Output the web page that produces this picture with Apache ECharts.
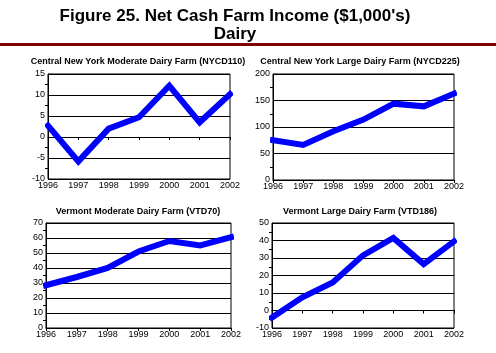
<!DOCTYPE html>
<html><head><meta charset="utf-8">
<script src="https://cdn.jsdelivr.net/npm/echarts@6/dist/echarts.min.js"></script>
<style>html,body{margin:0;padding:0;background:#fff}#c{width:496px;height:353px}</style>
</head><body><div id="c"></div>
<script>
const years = ['1996','1997','1998','1999','2000','2001','2002'];
const nycdModerate = [2.7, -5.8, 2.0, 4.7, 12.2, 3.5, 10.2];
const nycdLarge = [75, 66, 92, 114, 144, 139, 163];
const vtModerate = [28.5, 34, 40, 51, 58, 55, 60.5];
const vtLarge = [-4, 7.5, 16, 31.5, 41.5, 26.5, 39.5];
const chartTitles = [
  'Central New York Moderate Dairy Farm (NYCD110)',
  'Central New York Large Dairy Farm (NYCD225)',
  'Vermont Moderate Dairy Farm (VTD70)',
  'Vermont Large Dairy Farm (VTD186)'
];
const mainTitle = "Figure 25. Net Cash Farm Income ($1,000's)";
const subTitle = 'Dairy';
const yRanges = [[-10, 15, 5], [0, 200, 50], [0, 70, 10], [-10, 50, 10]];
const seriesData = [nycdModerate, nycdLarge, vtModerate, vtLarge];

const grids = [
  {left: 48, top: 74, width: 182, height: 105},
  {left: 273, top: 74, width: 181, height: 106},
  {left: 46, top: 223, width: 185, height: 105},
  {left: 272, top: 223, width: 182, height: 105}
];
const titlePos = [[138, 57], [360, 57], [138, 207], [360, 207]];
const font = 'Liberation Sans, Arial, sans-serif';

const chart = echarts.init(document.getElementById('c'), null, {renderer: 'canvas'});
const option = {
  animation: false,
  backgroundColor: '#fff',
  title: [
    {text: mainTitle, left: 235, top: 8, padding: 0, textAlign: 'center',
     textStyle: {fontFamily: font, fontWeight: 'bold', fontSize: 17, color: '#000'}},
    {text: subTitle, left: 235, top: 26, padding: 0, textAlign: 'center',
     textStyle: {fontFamily: font, fontWeight: 'bold', fontSize: 17, color: '#000'}}
  ].concat(chartTitles.map((t, i) => ({
    text: t, left: titlePos[i][0], top: titlePos[i][1], padding: 0, textAlign: 'center',
    textStyle: {fontFamily: font, fontWeight: 'bold', fontSize: 9, color: '#000', letterSpacing: -0.45}
  }))),
  graphic: [{type: 'rect', shape: {x: 0, y: 43, width: 496, height: 3}, style: {fill: '#800000'}}],
  grid: grids.map(g => Object.assign({show: true, borderColor: '#000', borderWidth: 1, backgroundColor: 'transparent'}, g)),
  xAxis: grids.map((g, i) => ({
    type: 'category', gridIndex: i, data: years, boundaryGap: false,
    axisLine: {show: true, lineStyle: {color: '#000', width: 1}},
    axisTick: {show: true, length: 3, lineStyle: {color: '#000'}},
    axisLabel: {fontFamily: font, fontSize: 9, color: '#000', margin: 2, letterSpacing: -0.3},
    splitLine: {show: false}
  })),
  yAxis: yRanges.map((r, i) => ({
    type: 'value', gridIndex: i, min: r[0], max: r[1], interval: r[2],
    axisLine: {show: true, lineStyle: {color: '#000', width: 1}},
    axisTick: {show: false},
    minorTick: {show: true, splitNumber: 2, length: 3, lineStyle: {color: '#000'}},
    axisLabel: {fontFamily: font, fontSize: 9, color: '#000', margin: 3},
    splitLine: {show: true, lineStyle: {color: '#000', width: 1}}
  })),
  series: seriesData.map((d, i) => ({
    type: 'line', xAxisIndex: i, yAxisIndex: i, data: d,
    symbol: 'none', lineStyle: {color: '#0000ff', width: 6, cap: 'square', join: 'miter'}
  }))
};
chart.setOption(option);
</script></body></html>
